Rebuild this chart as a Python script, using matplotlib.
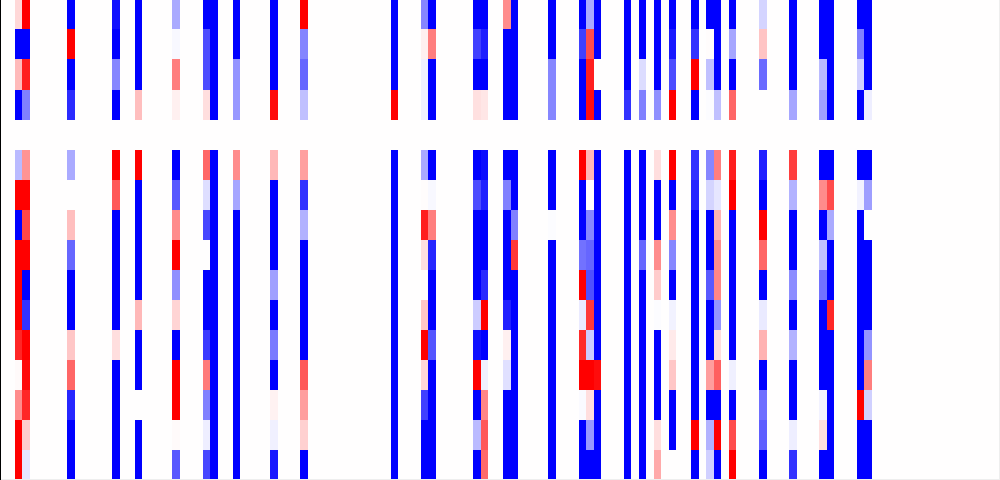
import numpy as np
import matplotlib
matplotlib.use("Agg")
import matplotlib.pyplot as plt
from matplotlib.patches import Rectangle
from matplotlib.transforms import IdentityTransform

n_cols = 133
n_rows = 16

# columns that hold values, the rest of the grid stays white
col_ids = [2, 3, 9, 15, 18, 23, 27, 28, 31, 36, 40, 52, 56, 57, 63, 64, 67, 68,
           73, 77, 78, 79, 83, 85, 87, 89, 92, 94, 95, 97, 101, 105, 109, 110, 114, 115]

# values per column, top row first (row 4 is the empty one)
c02 = [0.15, -1, 0.27, -1, 0, -0.27, 1, -1, 1, 1, 1, 0.85, 0.02, 0.45, 1, 1]
c03 = [1, -1, 0.88, -0.5, 0, 0.42, 1, 0.72, 1, -1, -0.8, 1, 0.95, 0.85, 0.2, -0.1]
c09 = [-1, 1, -1, -0.83, 0, -0.33, 0.005, 0.25, -0.6, -1, -1, 0.22, 0.6, -0.85, -1, -1]
c15 = [-0.93, -1, -0.47, -1, 0, 1, 0.65, -1, -1, -1, -1, 0.13, -1, -1, -1, -1]
c18 = [-1, -1, -1, 0.25, 0, 1, -1, -1, -1, -1, 0.28, -1, -1, 0.005, -1, -1]
c23 = [-0.33, -0.03, 0.5, 0.06, 0, -1, -0.65, 0.45, 1, -0.43, 0.17, -1, 1, 1, 0.02, -0.65]
c27 = [-1, -0.7, -0.7, 0.13, 0, 0.6, -0.13, -0.72, 0, -1, -1, -0.77, 0.52, -0.5, -0.07, -0.72]
c28 = [-1, -1, -1, -1, 0, -1, -1, -1, -1, -1, -1, -1, -1, -1, -1, -1]
c31 = [-1, -1, -0.42, -0.4, 0, 0.45, -0.35, -1, -1, -1, -1, -1, -1, -1, -1, -1]
c36 = [-1, -1, -1, 0.95, 0, 0.28, -1, -1, -1, -0.37, -1, -0.52, -1, 0.05, -0.06, -0.9]
c40 = [1, -0.48, -0.6, -0.25, 0, 0.37, -0.8, -0.3, -1, -1, -1, -1, 0.65, 0.38, 0.18, -1]
c52 = [-1, -1, -1, 1, 0, -1, -1, -1, -1, -1, -1, -1, -1, -1, -1, -1]
c56 = [-0.47, 0.06, -0.06, -0.06, 0, -0.33, 0.01, 0.88, 0.12, 0.01, 0.22, 1, 0.15, -0.75, -1, -1]
c57 = [-1, 0.5, -1, -1, 0, -1, -0.03, 0.5, -0.85, -1, -1, -0.67, -1, -1, -1, -1]
c63 = [-1, -0.75, -1, 0.12, 0, -1, -0.7, -1, -1, -1, -0.2, -0.93, 1, -1, -0.27, -1]
c64 = [-1, -0.88, -1, 0.1, 0, -0.95, -0.87, -1, -1, -0.83, 1, -1, -0.06, 0.47, 0.65, 0.58]
c67 = [0.45, -1, -1, -1, 0, -1, -0.5, -1, -1, -1, -0.87, 0.06, -0.12, -1, -1, -1]
c68 = [-1, -1, -1, -1, 0, -1, -1, -0.5, 0.78, -1, -1, -1, -1, -1, -1, -1]
c73 = [-1, -1, -0.47, -0.47, 0, -1, -1, -0.01, -1, -1, -1, -1, -1, -1, -1, -1]
c77 = [-1, -0.75, -1, -1, 0, 1, -1, -1, -0.55, 1, -0.08, 0.83, 1, -0.02, -1, -1]
c78 = [-0.33, 0.7, 0.88, 0.95, 0, 0.28, 0, -0.47, -0.6, -0.68, 0.78, -0.2, 1, 0.13, -0.4, -1]
c79 = [-1, -1, 0.005, -1, 0, -1, -1, -1, -1, -1, -1, -1, 0.95, -1, -1, -1]
c83 = [-1, -1, -1, -0.8, 0, -1, -1, -1, -1, -1, -1, -1, -1, -1, -1, -1]
c85 = [-1, -1, -0.14, -0.5, 0, -1, -1, -1, -0.6, -1, -1, -1, -1, -1, -1, -1]
c87 = [-1, -1, -1, -0.43, 0, 0.13, -1, -1, 0.45, 0.2, -0.01, -1, -1, -1, 0.13, 0.33]
c89 = [-1, -0.9, -0.7, 1, 0, 1, -1, 0.45, -0.47, -1, -0.05, 0.08, 0.22, -1, -1, 0]
c92 = [-1, -0.8, 1, -1, 0, -0.8, -0.85, -1, -1, -1, -1, -1, -1, -1, 1, -1]
c94 = [-1, 0.01, -0.25, -0.01, 0, -0.47, -0.17, -1, -1, -0.65, -1, -1, 0.38, -1, -0.3, -0.18]
c95 = [-1, -1, -1, -0.25, 0, 0.5, -0.1, 0.3, 0.45, 0.47, -0.42, 0.13, 0.62, -1, 1, -1]
c97 = [-1, -0.35, -1, 0.6, 0, 0.88, 1, -1, -1, -1, -1, -1, -0.06, -1, 0.7, 1]
c101 = [-0.17, 0.23, -0.58, 0, 0, -0.87, -1, 1, 0.6, -1, -0.08, 0.3, -1, -0.57, -0.63, -1]
c105 = [-1, -1, -1, -0.35, 0, 0.75, -0.3, -1, -1, -0.45, -1, -0.3, -1, -1, -0.07, -0.8]
c109 = [-1, -1, -0.27, -0.37, 0, -1, 0.45, -1, -0.25, -0.55, -1, -1, -1, -0.05, 0.13, -1]
c110 = [-1, -1, -1, -1, 0, -1, 0.7, -0.33, -1, -1, 0.85, -1, -1, -1, -1, -1]
c114 = [-1, -0.5, -0.18, -1, 0, -1, -0.05, -1, -1, -1, -1, -1, -1, 1, -1, -1]
c115 = [-1, -1, -1, -0.07, 0, -1, -0.38, 0, -1, -1, -1, -0.42, 0.5, -0.18, -1, -1]

values = [c02, c03, c09, c15, c18, c23, c27, c28, c31, c36, c40, c52, c56, c57, c63, c64, c67, c68,
          c73, c77, c78, c79, c83, c85, c87, c89, c92, c94, c95, c97, c101, c105, c109, c110, c114, c115]

grid = np.zeros((n_rows, n_cols))
for i, col in zip(col_ids, values):
    grid[:, i] = col

fig = plt.figure(figsize=(10, 4.81), dpi=100)
# axes sits a fraction of a pixel off the canvas, the picture is a crop
ax = fig.add_axes([-0.5 / 1000, -0.35 / 481, 1000.16 / 1000, 1])
ax.pcolormesh(grid, cmap="bwr", vmin=-1, vmax=1, antialiased=False, linewidth=0)
ax.set_xlim(0, n_cols)
ax.set_ylim(n_rows, 0)
ax.axis("off")

# frame lines in pixels: black left and top, very pale right and bottom
px = IdentityTransform()
fig.add_artist(Rectangle((999, 0), 2, 481, transform=px, color="#eeeeee", lw=0, antialiased=False))
fig.add_artist(Rectangle((0, -1), 1000, 2, transform=px, color="#eeeeee", lw=0, antialiased=False))
fig.add_artist(Rectangle((-1, 0), 2, 481, transform=px, color="black", lw=0, antialiased=False))
fig.add_artist(Rectangle((0, 480), 1000, 2, transform=px, color="black", lw=0, antialiased=False))

fig.savefig("out.png", dpi=100)
